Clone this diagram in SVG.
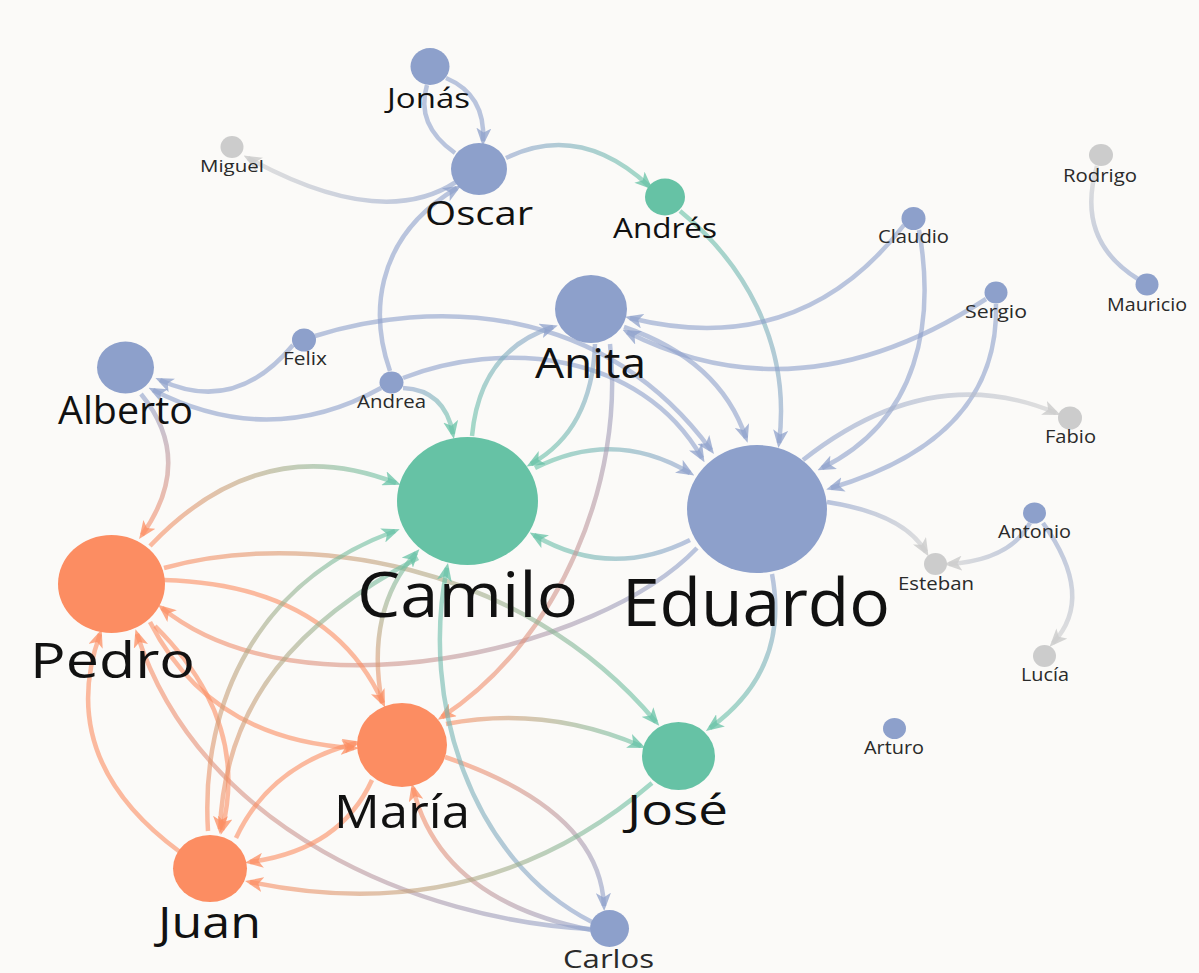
<svg xmlns="http://www.w3.org/2000/svg" width="1199" height="973" viewBox="0 0 1199 973">
<style>
.e{fill:none;stroke-width:4.5;stroke-opacity:.6}
.b{stroke:#8da0cb}.g{stroke:#66c2a5}.o{stroke:#fc8d62}.r{stroke:#cccccc}
.aB{marker-end:url(#mB)}.aG{marker-end:url(#mG)}.aO{marker-end:url(#mO)}.aR{marker-end:url(#mR)}
.nb{fill:#8da0cb}.ng{fill:#66c2a5}.no{fill:#fc8d62}.nr{fill:#cccccc}
text{font-family:"Open Sans","Liberation Sans",sans-serif;text-anchor:middle;fill:#111}
.s{fill:#2a2a2a}
</style>
<defs>
<marker id="mB" markerUnits="userSpaceOnUse" markerWidth="18" markerHeight="15" refX="13" refY="7.5" orient="auto"><path d="M0,0 L18,7.5 L0,15 L4.5,7.5 Z" fill="#8da0cb" fill-opacity=".75"/></marker>
<marker id="mG" markerUnits="userSpaceOnUse" markerWidth="18" markerHeight="15" refX="13" refY="7.5" orient="auto"><path d="M0,0 L18,7.5 L0,15 L4.5,7.5 Z" fill="#66c2a5" fill-opacity=".75"/></marker>
<marker id="mO" markerUnits="userSpaceOnUse" markerWidth="18" markerHeight="15" refX="13" refY="7.5" orient="auto"><path d="M0,0 L18,7.5 L0,15 L4.5,7.5 Z" fill="#fc8d62" fill-opacity=".75"/></marker>
<marker id="mR" markerUnits="userSpaceOnUse" markerWidth="18" markerHeight="15" refX="13" refY="7.5" orient="auto"><path d="M0,0 L18,7.5 L0,15 L4.5,7.5 Z" fill="#cccccc" fill-opacity=".85"/></marker>
<linearGradient id="g3" gradientUnits="userSpaceOnUse" x1="456" y1="182" x2="248" y2="158"><stop offset="0" stop-color="#8da0cb"/><stop offset="1" stop-color="#cccccc"/></linearGradient>
<linearGradient id="g4" gradientUnits="userSpaceOnUse" x1="506" y1="158" x2="649" y2="186"><stop offset="0" stop-color="#8da0cb"/><stop offset="1" stop-color="#66c2a5"/></linearGradient>
<linearGradient id="g5" gradientUnits="userSpaceOnUse" x1="680" y1="211" x2="779" y2="443"><stop offset="0" stop-color="#66c2a5"/><stop offset="1" stop-color="#8da0cb"/></linearGradient>
<linearGradient id="g11" gradientUnits="userSpaceOnUse" x1="1097" y1="166" x2="1138" y2="279"><stop offset="0" stop-color="#cccccc"/><stop offset="1" stop-color="#8da0cb"/></linearGradient>
<linearGradient id="g12" gradientUnits="userSpaceOnUse" x1="803" y1="460" x2="1056" y2="413"><stop offset="0" stop-color="#8da0cb"/><stop offset="1" stop-color="#cccccc"/></linearGradient>
<linearGradient id="g13" gradientUnits="userSpaceOnUse" x1="827" y1="502" x2="926" y2="552"><stop offset="0" stop-color="#8da0cb"/><stop offset="1" stop-color="#cccccc"/></linearGradient>
<linearGradient id="g14" gradientUnits="userSpaceOnUse" x1="1030" y1="523" x2="949" y2="564"><stop offset="0" stop-color="#8da0cb"/><stop offset="1" stop-color="#cccccc"/></linearGradient>
<linearGradient id="g15" gradientUnits="userSpaceOnUse" x1="1043" y1="523" x2="1053" y2="643"><stop offset="0" stop-color="#8da0cb"/><stop offset="1" stop-color="#cccccc"/></linearGradient>
<linearGradient id="g21" gradientUnits="userSpaceOnUse" x1="472" y1="436" x2="553" y2="327"><stop offset="0" stop-color="#66c2a5"/><stop offset="1" stop-color="#8da0cb"/></linearGradient>
<linearGradient id="g22" gradientUnits="userSpaceOnUse" x1="403" y1="388" x2="453" y2="434"><stop offset="0" stop-color="#8da0cb"/><stop offset="1" stop-color="#66c2a5"/></linearGradient>
<linearGradient id="g23" gradientUnits="userSpaceOnUse" x1="595" y1="344" x2="531" y2="464"><stop offset="0" stop-color="#8da0cb"/><stop offset="1" stop-color="#66c2a5"/></linearGradient>
<linearGradient id="g24" gradientUnits="userSpaceOnUse" x1="535" y1="468" x2="690" y2="473"><stop offset="0" stop-color="#66c2a5"/><stop offset="1" stop-color="#8da0cb"/></linearGradient>
<linearGradient id="g25" gradientUnits="userSpaceOnUse" x1="690" y1="540" x2="534" y2="535"><stop offset="0" stop-color="#8da0cb"/><stop offset="1" stop-color="#66c2a5"/></linearGradient>
<linearGradient id="g26" gradientUnits="userSpaceOnUse" x1="697" y1="548" x2="162" y2="608"><stop offset="0" stop-color="#8da0cb"/><stop offset="1" stop-color="#fc8d62"/></linearGradient>
<linearGradient id="g27" gradientUnits="userSpaceOnUse" x1="610" y1="344" x2="442" y2="717"><stop offset="0" stop-color="#8da0cb"/><stop offset="1" stop-color="#fc8d62"/></linearGradient>
<linearGradient id="g28" gradientUnits="userSpaceOnUse" x1="772" y1="574" x2="710" y2="728"><stop offset="0" stop-color="#8da0cb"/><stop offset="1" stop-color="#66c2a5"/></linearGradient>
<linearGradient id="g29" gradientUnits="userSpaceOnUse" x1="164" y1="568" x2="656" y2="722"><stop offset="0" stop-color="#fc8d62"/><stop offset="1" stop-color="#66c2a5"/></linearGradient>
<linearGradient id="g30" gradientUnits="userSpaceOnUse" x1="446" y1="724" x2="641" y2="746"><stop offset="0" stop-color="#fc8d62"/><stop offset="1" stop-color="#66c2a5"/></linearGradient>
<linearGradient id="g31" gradientUnits="userSpaceOnUse" x1="445" y1="757" x2="604" y2="906"><stop offset="0" stop-color="#fc8d62"/><stop offset="1" stop-color="#8da0cb"/></linearGradient>
<linearGradient id="g32" gradientUnits="userSpaceOnUse" x1="591" y1="930" x2="413" y2="788"><stop offset="0" stop-color="#8da0cb"/><stop offset="1" stop-color="#fc8d62"/></linearGradient>
<linearGradient id="g33" gradientUnits="userSpaceOnUse" x1="592" y1="922" x2="447" y2="568"><stop offset="0" stop-color="#8da0cb"/><stop offset="1" stop-color="#66c2a5"/></linearGradient>
<linearGradient id="g34" gradientUnits="userSpaceOnUse" x1="590" y1="929" x2="137" y2="634"><stop offset="0" stop-color="#8da0cb"/><stop offset="1" stop-color="#fc8d62"/></linearGradient>
<linearGradient id="g41" gradientUnits="userSpaceOnUse" x1="652" y1="783" x2="250" y2="882"><stop offset="0" stop-color="#66c2a5"/><stop offset="1" stop-color="#fc8d62"/></linearGradient>
<linearGradient id="g42" gradientUnits="userSpaceOnUse" x1="382" y1="703" x2="416" y2="553"><stop offset="0" stop-color="#fc8d62"/><stop offset="1" stop-color="#66c2a5"/></linearGradient>
<linearGradient id="g43" gradientUnits="userSpaceOnUse" x1="208" y1="831" x2="395" y2="531"><stop offset="0" stop-color="#fc8d62"/><stop offset="1" stop-color="#66c2a5"/></linearGradient>
<linearGradient id="g44" gradientUnits="userSpaceOnUse" x1="418" y1="558" x2="220" y2="829"><stop offset="0" stop-color="#66c2a5"/><stop offset="1" stop-color="#fc8d62"/></linearGradient>
<linearGradient id="g45" gradientUnits="userSpaceOnUse" x1="141" y1="394" x2="142" y2="535"><stop offset="0" stop-color="#8da0cb"/><stop offset="1" stop-color="#fc8d62"/></linearGradient>
<linearGradient id="g46" gradientUnits="userSpaceOnUse" x1="150" y1="546" x2="396" y2="483"><stop offset="0" stop-color="#fc8d62"/><stop offset="1" stop-color="#66c2a5"/></linearGradient>
</defs>
<rect width="1199" height="973" fill="#fbfaf8"/>
<g id="connectors">
<path class="e b aB" d="M446 78 Q486 95 483 141"/>
<path class="e b" d="M455 153 Q415 125 427 85"/>
<path class="e aR" stroke="url(#g3)" d="M456 182 Q381 231 248 158"/>
<path class="e aG" stroke="url(#g4)" d="M506 158 Q580 122 649 186"/>
<path class="e aB" stroke="url(#g5)" d="M680 211 C740 260 792 340 779 443"/>
<path class="e b aB" d="M390 371 C372 320 370 240 457 188"/>
<path class="e b aB" d="M904 225 Q800 360 630 318"/>
<path class="e b aB" d="M919 230 C935 320 920 420 822 468"/>
<path class="e b aB" d="M986 299 Q800 420 627 332"/>
<path class="e b aB" d="M996 304 C998 380 960 450 831 488"/>
<path class="e" stroke="url(#g11)" d="M1097 166 Q1075 240 1138 279"/>
<path class="e aR" stroke="url(#g12)" d="M803 460 Q930 360 1056 413"/>
<path class="e aR" stroke="url(#g13)" d="M827 502 Q904 514 926 552"/>
<path class="e aR" stroke="url(#g14)" d="M1030 523 Q1010 560 949 564"/>
<path class="e aR" stroke="url(#g15)" d="M1043 523 Q1096 597 1053 643"/>
<path class="e b aB" d="M293 345 Q235 415 160 380"/>
<path class="e b aB" d="M381 388 Q270 450 153 390"/>
<path class="e b aB" d="M315 336 C430 300 600 300 711 450"/>
<path class="e b aB" d="M403 378 C500 340 640 350 702 458"/>
<path class="e b aB" d="M624 327 Q720 360 746 438"/>
<path class="e aB" stroke="url(#g21)" d="M472 436 Q480 350 553 327"/>
<path class="e aG" stroke="url(#g22)" d="M403 388 Q445 390 453 434"/>
<path class="e aG" stroke="url(#g23)" d="M595 344 Q592 430 531 464"/>
<path class="e aB" stroke="url(#g24)" d="M535 468 Q615 428 690 473"/>
<path class="e aG" stroke="url(#g25)" d="M690 540 Q610 580 534 535"/>
<path class="e aO" stroke="url(#g26)" d="M697 548 C600 650 300 720 162 608"/>
<path class="e aO" stroke="url(#g27)" d="M610 344 C625 480 560 640 442 717"/>
<path class="e aG" stroke="url(#g28)" d="M772 574 Q790 670 710 728"/>
<path class="e aG" stroke="url(#g29)" d="M164 568 C300 530 520 560 656 722"/>
<path class="e aG" stroke="url(#g30)" d="M446 724 Q545 705 641 746"/>
<path class="e aB" stroke="url(#g31)" d="M445 757 Q600 810 604 906"/>
<path class="e aO" stroke="url(#g32)" d="M591 930 Q440 900 413 788"/>
<path class="e aG" stroke="url(#g33)" d="M592 922 C470 860 420 700 447 568"/>
<path class="e aO" stroke="url(#g34)" d="M590 929 C420 920 200 830 137 634"/>
<path class="e o aO" d="M180 852 Q55 760 100 634"/>
<path class="e o aO" d="M155 626 Q250 720 222 830"/>
<path class="e o aO" d="M164 580 Q330 585 383 703"/>
<path class="e o aO" d="M150 622 Q210 740 354 748"/>
<path class="e o aO" d="M236 838 Q270 765 356 743"/>
<path class="e o aO" d="M372 780 Q340 850 250 862"/>
<path class="e aO" stroke="url(#g41)" d="M652 783 Q480 930 250 882"/>
<path class="e aG" stroke="url(#g42)" d="M382 703 Q365 610 416 553"/>
<path class="e aG" stroke="url(#g43)" d="M208 831 C200 700 260 580 395 531"/>
<path class="e aO" stroke="url(#g44)" d="M418 558 C300 620 225 700 220 829"/>
<path class="e aO" stroke="url(#g45)" d="M141 394 Q195 460 142 535"/>
<path class="e aG" stroke="url(#g46)" d="M150 546 Q260 430 396 483"/>
</g>
<g id="n-jonas"><ellipse class="nb" cx="430" cy="66.5" rx="19.5" ry="18.5"/><text x="428.5" y="108" font-size="28" textLength="83" lengthAdjust="spacingAndGlyphs">Jonás</text></g>
<g id="n-oscar"><ellipse class="nb" cx="479" cy="169" rx="28" ry="26"/><text x="479" y="225" font-size="33" textLength="108" lengthAdjust="spacingAndGlyphs">Oscar</text></g>
<g id="n-miguel"><ellipse class="nr" cx="232" cy="147" rx="11.5" ry="11"/><text class="s" x="232" y="172" font-size="17" textLength="64" lengthAdjust="spacingAndGlyphs">Miguel</text></g>
<g id="n-andres"><ellipse class="ng" cx="665" cy="197" rx="20" ry="18.5"/><text x="665" y="238" font-size="28" textLength="104" lengthAdjust="spacingAndGlyphs">Andrés</text></g>
<g id="n-anita"><ellipse class="nb" cx="591" cy="309" rx="36" ry="34"/><text x="590.5" y="378" font-size="42" textLength="111" lengthAdjust="spacingAndGlyphs">Anita</text></g>
<g id="n-claudio"><ellipse class="nb" cx="913.5" cy="218.5" rx="12" ry="11.5"/><text class="s" x="913.5" y="243" font-size="18" textLength="71" lengthAdjust="spacingAndGlyphs">Claudio</text></g>
<g id="n-rodrigo"><ellipse class="nr" cx="1101" cy="155" rx="12" ry="11"/><text class="s" x="1100" y="182" font-size="18" textLength="74" lengthAdjust="spacingAndGlyphs">Rodrigo</text></g>
<g id="n-mauricio"><ellipse class="nb" cx="1147" cy="284.5" rx="11.5" ry="11"/><text class="s" x="1147" y="311" font-size="18" textLength="80" lengthAdjust="spacingAndGlyphs">Mauricio</text></g>
<g id="n-sergio"><ellipse class="nb" cx="996" cy="292.5" rx="11.5" ry="11"/><text class="s" x="996" y="318" font-size="18" textLength="62" lengthAdjust="spacingAndGlyphs">Sergio</text></g>
<g id="n-alberto"><ellipse class="nb" cx="125.5" cy="367.5" rx="28.5" ry="26"/><text x="125.5" y="424" font-size="38" textLength="135" lengthAdjust="spacingAndGlyphs">Alberto</text></g>
<g id="n-felix"><ellipse class="nb" cx="304" cy="340" rx="12" ry="11.5"/><text class="s" x="305" y="365" font-size="18" textLength="44" lengthAdjust="spacingAndGlyphs">Felix</text></g>
<g id="n-andrea"><ellipse class="nb" cx="391.5" cy="382.5" rx="12" ry="11"/><text class="s" x="391.5" y="408" font-size="18" textLength="69" lengthAdjust="spacingAndGlyphs">Andrea</text></g>
<g id="n-fabio"><ellipse class="nr" cx="1070" cy="418" rx="12" ry="11.5"/><text class="s" x="1070.5" y="443" font-size="18" textLength="51" lengthAdjust="spacingAndGlyphs">Fabio</text></g>
<g id="n-antonio"><ellipse class="nb" cx="1034.5" cy="513" rx="11.5" ry="10.5"/><text class="s" x="1034.5" y="538" font-size="18" textLength="73" lengthAdjust="spacingAndGlyphs">Antonio</text></g>
<g id="n-esteban"><ellipse class="nr" cx="935.5" cy="564" rx="11.5" ry="11"/><text class="s" x="936" y="590" font-size="18" textLength="76" lengthAdjust="spacingAndGlyphs">Esteban</text></g>
<g id="n-lucia"><ellipse class="nr" cx="1044.5" cy="656" rx="11.5" ry="11"/><text class="s" x="1045" y="681" font-size="18" textLength="48" lengthAdjust="spacingAndGlyphs">Lucía</text></g>
<g id="n-arturo"><ellipse class="nb" cx="894.5" cy="728.5" rx="11.5" ry="10.5"/><text class="s" x="894" y="754" font-size="18" textLength="60" lengthAdjust="spacingAndGlyphs">Arturo</text></g>
<g id="n-camilo"><ellipse class="ng" cx="467.5" cy="501" rx="70.5" ry="64"/><text x="467.5" y="617" font-size="62" textLength="221" lengthAdjust="spacingAndGlyphs">Camilo</text></g>
<g id="n-eduardo"><ellipse class="nb" cx="757" cy="509" rx="70" ry="64"/><text x="756" y="626" font-size="65" textLength="268" lengthAdjust="spacingAndGlyphs">Eduardo</text></g>
<g id="n-pedro"><ellipse class="no" cx="111.5" cy="584" rx="53.5" ry="49"/><text x="112.5" y="678" font-size="50" textLength="165" lengthAdjust="spacingAndGlyphs">Pedro</text></g>
<g id="n-maria"><ellipse class="no" cx="402" cy="745" rx="45" ry="42"/><text x="402" y="828" font-size="46" textLength="136" lengthAdjust="spacingAndGlyphs">María</text></g>
<g id="n-jose"><ellipse class="ng" cx="678.5" cy="756" rx="36.5" ry="34"/><text x="677.5" y="825" font-size="42" textLength="101" lengthAdjust="spacingAndGlyphs">José</text></g>
<g id="n-juan"><ellipse class="no" cx="210" cy="868.5" rx="37" ry="33.5"/><text x="209.5" y="938" font-size="43" textLength="103" lengthAdjust="spacingAndGlyphs">Juan</text></g>
<g id="n-carlos"><ellipse class="nb" cx="609.5" cy="928.5" rx="19.5" ry="18.5"/><text class="s" x="608.5" y="968" font-size="25" textLength="91" lengthAdjust="spacingAndGlyphs">Carlos</text></g>
</svg>
